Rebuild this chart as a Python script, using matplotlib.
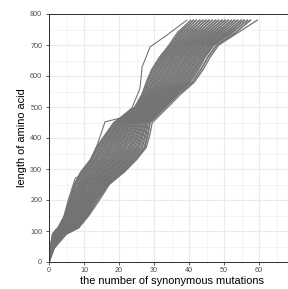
import matplotlib
matplotlib.use('Agg')
import matplotlib.pyplot as plt
from matplotlib.ticker import MultipleLocator

# --- Data ---
# length of amino acid at which the cumulative counts are read
length_knots = [0, 45, 90, 110, 150, 200, 250, 290, 330, 370, 410, 450, 500,
                540, 580, 620, 660, 700, 740, 780]

# cumulative synonymous mutations of each sequence (40 sequences), one list per length
k45 = [0.3, 0.3, 0.4, 0.4, 0.4, 0.5, 0.5, 0.5, 0.6, 0.6, 0.6, 0.7, 0.7, 0.7, 0.8, 0.8, 0.8, 0.8, 0.9, 0.9,
       0.9, 1.0, 1.0, 1.0, 1.0, 1.1, 1.1, 1.1, 1.2, 1.2, 1.2, 1.3, 1.3, 1.3, 1.3, 1.4, 1.4, 1.4, 1.5, 1.5]
k90 = [1.0, 1.2, 1.1, 1.4, 1.5, 1.4, 1.7, 1.8, 1.7, 2.0, 2.1, 2.0, 2.3, 2.4, 2.3, 2.6, 2.7, 2.6, 2.9, 3.0,
       3.0, 3.1, 3.3, 3.2, 3.5, 3.6, 3.5, 3.8, 3.9, 3.8, 4.1, 4.2, 4.1, 4.4, 4.5, 4.4, 4.7, 4.8, 4.7, 5.0]
k110 = [2.5, 2.8, 2.7, 3.1, 3.0, 3.4, 3.3, 3.6, 3.8, 3.7, 4.1, 4.0, 4.4, 4.3, 4.7, 4.6, 5.0, 4.9, 5.3, 5.2,
        5.6, 5.5, 5.9, 5.8, 6.2, 6.1, 6.5, 6.4, 6.8, 6.7, 7.1, 7.0, 7.4, 7.3, 7.7, 7.6, 8.0, 7.9, 8.3, 8.5]
k150 = [4.4, 4.7, 4.6, 5.1, 4.9, 5.4, 5.3, 5.7, 5.6, 6.1, 6.0, 6.4, 6.3, 6.8, 6.7, 7.1, 7.0, 7.5, 7.4, 7.8,
        7.8, 8.2, 8.1, 8.5, 8.5, 8.9, 8.8, 9.3, 9.2, 9.6, 9.6, 10.0, 9.9, 10.3, 10.3, 10.7, 10.6, 11.0, 11.1, 11.4]
k200 = [5.8, 6.2, 6.0, 6.6, 6.4, 7.0, 6.9, 7.4, 7.3, 7.8, 7.7, 8.2, 8.1, 8.7, 8.5, 9.1, 8.9, 9.5, 9.4, 9.9,
        9.8, 10.3, 10.2, 10.8, 10.6, 11.2, 11.0, 11.6, 11.5, 12.0, 11.9, 12.4, 12.3, 12.9, 12.7, 13.3, 13.2, 13.7, 13.9, 14.4]
k250 = [7.2, 7.7, 7.4, 8.3, 7.9, 8.8, 8.5, 9.3, 9.0, 9.8, 9.6, 10.3, 10.1, 10.8, 10.6, 11.3, 11.2, 11.9, 11.7, 12.4,
        12.2, 12.9, 12.7, 13.4, 13.3, 13.9, 13.8, 14.5, 14.3, 15.0, 14.8, 15.5, 15.4, 16.0, 15.9, 16.5, 16.4, 16.9, 17.0, 17.2]
k290 = [9.0, 9.6, 9.3, 10.3, 9.9, 10.9, 10.6, 11.6, 11.2, 12.2, 11.9, 12.8, 12.5, 13.5, 13.2, 14.1, 13.8, 14.8, 14.4, 15.4,
        15.1, 16.0, 15.7, 16.7, 16.4, 17.3, 17.0, 18.0, 17.6, 18.6, 18.3, 19.2, 18.9, 19.9, 19.6, 20.5, 20.2, 21.1, 20.9, 21.5]
k330 = [11.8, 12.4, 12.1, 13.1, 12.8, 13.7, 13.4, 14.5, 14.1, 15.2, 14.8, 15.8, 15.5, 16.5, 16.2, 17.2, 16.9, 17.9, 17.6, 18.6,
        18.3, 19.3, 18.9, 20.0, 19.6, 20.6, 20.3, 21.3, 21.0, 22.0, 21.7, 22.7, 22.4, 23.4, 23.0, 24.1, 23.7, 24.7, 24.5, 25.0]
k370 = [13.5, 14.2, 13.9, 14.9, 14.6, 15.7, 15.3, 16.4, 16.0, 17.1, 16.8, 17.8, 17.5, 18.6, 18.2, 19.3, 19.0, 20.1, 19.7, 20.8,
        20.4, 21.5, 21.2, 22.2, 21.9, 23.0, 22.7, 23.7, 23.4, 24.5, 24.1, 25.2, 24.9, 25.9, 25.6, 26.7, 26.4, 27.4, 27.2, 27.8]
k410 = [16.0, 16.6, 16.3, 17.3, 16.9, 17.9, 17.6, 18.6, 18.2, 19.2, 18.9, 19.9, 19.5, 20.5, 20.2, 21.2, 20.8, 21.8, 21.5, 22.5,
        22.1, 23.1, 22.8, 23.8, 23.5, 24.4, 24.1, 25.1, 24.8, 25.7, 25.4, 26.4, 26.1, 27.0, 26.7, 27.7, 27.4, 28.3, 28.1, 28.8]
k450 = [18.5, 19.0, 18.8, 19.6, 19.3, 20.1, 19.9, 20.7, 20.4, 21.2, 21.0, 21.8, 21.5, 22.3, 22.1, 22.9, 22.6, 23.4, 23.2, 24.0,
        23.7, 24.5, 24.3, 25.1, 24.8, 25.6, 25.4, 26.2, 25.9, 26.7, 26.5, 27.3, 27.0, 27.8, 27.6, 28.4, 28.1, 28.9, 28.8, 29.5]
k500 = [24.5, 25.0, 24.8, 25.5, 25.2, 25.9, 25.7, 26.4, 26.2, 26.9, 26.7, 27.3, 27.1, 27.8, 27.6, 28.3, 28.1, 28.8, 28.5, 29.2,
        29.0, 29.7, 29.5, 30.2, 29.9, 30.6, 30.4, 31.1, 30.9, 31.6, 31.3, 32.0, 31.8, 32.5, 32.3, 33.0, 32.7, 33.4, 33.3, 34.0]
k540 = [26.5, 27.0, 26.8, 27.6, 27.3, 28.1, 27.9, 28.7, 28.4, 29.2, 29.0, 29.8, 29.5, 30.3, 30.1, 30.9, 30.6, 31.4, 31.2, 32.0,
        31.7, 32.5, 32.3, 33.1, 32.8, 33.6, 33.4, 34.2, 33.9, 34.7, 34.5, 35.3, 35.0, 35.8, 35.6, 36.4, 36.1, 36.9, 36.8, 37.5]
k580 = [27.8, 28.4, 28.1, 29.1, 28.8, 29.8, 29.5, 30.5, 30.2, 31.2, 30.9, 31.9, 31.6, 32.6, 32.3, 33.3, 33.0, 34.0, 33.7, 34.7,
        34.4, 35.4, 35.1, 36.1, 35.8, 36.8, 36.5, 37.5, 37.2, 38.2, 37.9, 38.9, 38.6, 39.6, 39.3, 40.3, 40.0, 41.0, 40.9, 41.5]
k620 = [29.3, 30.0, 29.6, 30.7, 30.4, 31.5, 31.1, 32.2, 31.8, 32.9, 32.6, 33.7, 33.3, 34.4, 34.1, 35.2, 34.8, 35.9, 35.6, 36.7,
        36.3, 37.4, 37.1, 38.2, 37.8, 38.9, 38.6, 39.7, 39.3, 40.4, 40.1, 41.2, 40.8, 41.9, 41.5, 42.7, 42.3, 43.4, 43.3, 44.0]
k660 = [31.5, 32.2, 31.9, 32.9, 32.6, 33.6, 33.3, 34.4, 34.0, 35.1, 34.8, 35.8, 35.5, 36.6, 36.2, 37.3, 37.0, 38.0, 37.7, 38.8,
        38.4, 39.5, 39.2, 40.2, 39.9, 41.0, 40.6, 41.7, 41.4, 42.4, 42.1, 43.2, 42.8, 43.9, 43.6, 44.6, 44.3, 45.4, 45.3, 46.0]
k700 = [34.3, 35.0, 34.7, 35.7, 35.4, 36.4, 36.1, 37.1, 36.8, 37.9, 37.5, 38.6, 38.3, 39.3, 39.0, 40.0, 39.7, 40.7, 40.4, 41.5,
        41.1, 42.2, 41.9, 42.9, 42.6, 43.6, 43.3, 44.3, 44.0, 45.1, 44.7, 45.8, 45.5, 46.5, 46.2, 47.2, 46.9, 48.0, 47.9, 48.5]
k740 = [36.7, 37.5, 37.2, 38.4, 38.0, 39.3, 38.9, 40.2, 39.8, 41.1, 40.7, 41.9, 41.6, 42.8, 42.4, 43.7, 43.3, 44.6, 44.2, 45.4,
        45.1, 46.3, 45.9, 47.2, 46.8, 48.1, 47.7, 48.9, 48.5, 49.8, 49.4, 50.7, 50.3, 51.6, 51.1, 52.4, 52.0, 53.3, 53.2, 54.0]
k780 = [40.5, 41.2, 41.3, 42.0, 42.2, 43.0, 43.1, 43.8, 44.0, 44.7, 44.9, 45.6, 45.8, 46.6, 46.7, 47.5, 47.7, 48.4, 48.5, 49.3,
        49.5, 50.2, 50.4, 51.1, 51.3, 52.1, 52.2, 52.9, 53.1, 53.8, 54.0, 54.8, 54.9, 55.6, 55.8, 56.6, 56.7, 57.4, 57.6, 59.5]

count_columns = [k45, k90, k110, k150, k200, k250, k290, k330, k370, k410, k450, k500,
                 k540, k580, k620, k660, k700, k740, k780]

# one sequence that runs ahead of the others
outlier_counts = [0, 0.5, 1, 2, 3.5, 5.5, 7.5, 10, 13.1, 16, 20.3, 23.7, 26, 26.6, 28.9, 33.7, 38.3, 39.4]
outlier_length = [0, 50, 90, 105, 115, 200, 270, 285, 355, 452, 464, 497, 560, 629, 694, 732, 771, 780]

# --- Figure ---
plt.rcParams['font.family'] = ['Liberation Sans', 'DejaVu Sans']
fig = plt.figure(figsize=(4.0, 289 / 72), dpi=72)
ax = fig.add_axes([49 / 288, 27 / 289, 245 / 288, 248 / 289])

line_col = '#737373'
for seq in zip(*count_columns):
    ax.plot([0] + list(seq), length_knots, color=line_col, lw=1.3)
ax.plot(outlier_counts, outlier_length, color=line_col, lw=1.1)

ax.set_xlim(0, 70)
ax.set_ylim(0, 800)
ax.xaxis.set_major_locator(MultipleLocator(10))
ax.xaxis.set_minor_locator(MultipleLocator(5))
ax.yaxis.set_major_locator(MultipleLocator(100))
ax.yaxis.set_minor_locator(MultipleLocator(50))

# theme_bw style grid
ax.set_axisbelow(True)
ax.grid(which='major', color='#ebebeb', lw=1.1)
ax.grid(which='minor', color='#ebebeb', lw=0.55)
ax.tick_params(which='major', length=2.75, width=0.8, color='#333333',
               labelsize=7.2, labelcolor='#4d4d4d')
ax.tick_params(axis='x', pad=2)
ax.tick_params(axis='y', pad=4)
ax.tick_params(which='minor', length=0)
for s in ax.spines.values():
    s.set_color('#333333')
    s.set_linewidth(1.0)
    s.set_clip_on(False)

ax.set_xlabel('the number of synonymous mutations', fontsize=11, labelpad=2)
ax.set_ylabel('length of amino acid', fontsize=11, labelpad=3)

fig.savefig('out.png', dpi=72)
